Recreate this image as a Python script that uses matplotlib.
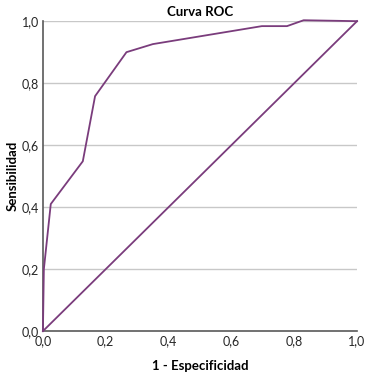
import matplotlib
matplotlib.use("Agg")
import matplotlib.pyplot as plt

fpr = [0.0, 0.003, 0.025, 0.127, 0.166, 0.266, 0.35, 0.697, 0.777, 0.83, 1.0]
tpr = [0.0, 0.20, 0.41, 0.548, 0.758, 0.90, 0.926, 0.984, 0.984, 1.003, 1.0]
ref_x = [0.0, 1.0]
ref_y = [0.0, 1.0]
ticks = [0.0, 0.2, 0.4, 0.6, 0.8, 1.0]
tick_labels = ["0,0", "0,2", "0,4", "0,6", "0,8", "1,0"]

plt.rcParams['font.family'] = ['Lato', 'DejaVu Sans']
fig = plt.figure(figsize=(3.70, 3.78), dpi=100)
ax = fig.add_axes([0.116, 0.124, 0.849, 0.820])
col = "#7A3C7C"
ax.plot(fpr, tpr, color=col, lw=1.3, clip_on=False, zorder=3)
ax.plot(ref_x, ref_y, color=col, lw=1.3, clip_on=False, zorder=3)
ax.set_xlim(0, 1)
ax.set_ylim(0, 1)
ax.set_xticks(ticks)
ax.set_xticklabels(tick_labels)
ax.set_yticks(ticks)
ax.set_yticklabels(tick_labels)
for y in ticks[1:]:
    ax.axhline(y, color="#c8c8c8", lw=1.0, zorder=1)
for s in ["top", "right"]:
    ax.spines[s].set_visible(False)
for s in ["left", "bottom"]:
    ax.spines[s].set_color("#595959")
    ax.spines[s].set_linewidth(1.2)
ax.tick_params(length=0, labelsize=9, colors="#262626", pad=3)
ax.set_title("Curva ROC", fontsize=9.5, fontweight="bold", pad=4)
ax.set_xlabel("1 - Especificidad", fontsize=9.5, fontweight="bold", labelpad=9)
ax.set_ylabel("Sensibilidad", fontsize=9.5, fontweight="bold", labelpad=2)
fig.savefig("out.png", dpi=100)
